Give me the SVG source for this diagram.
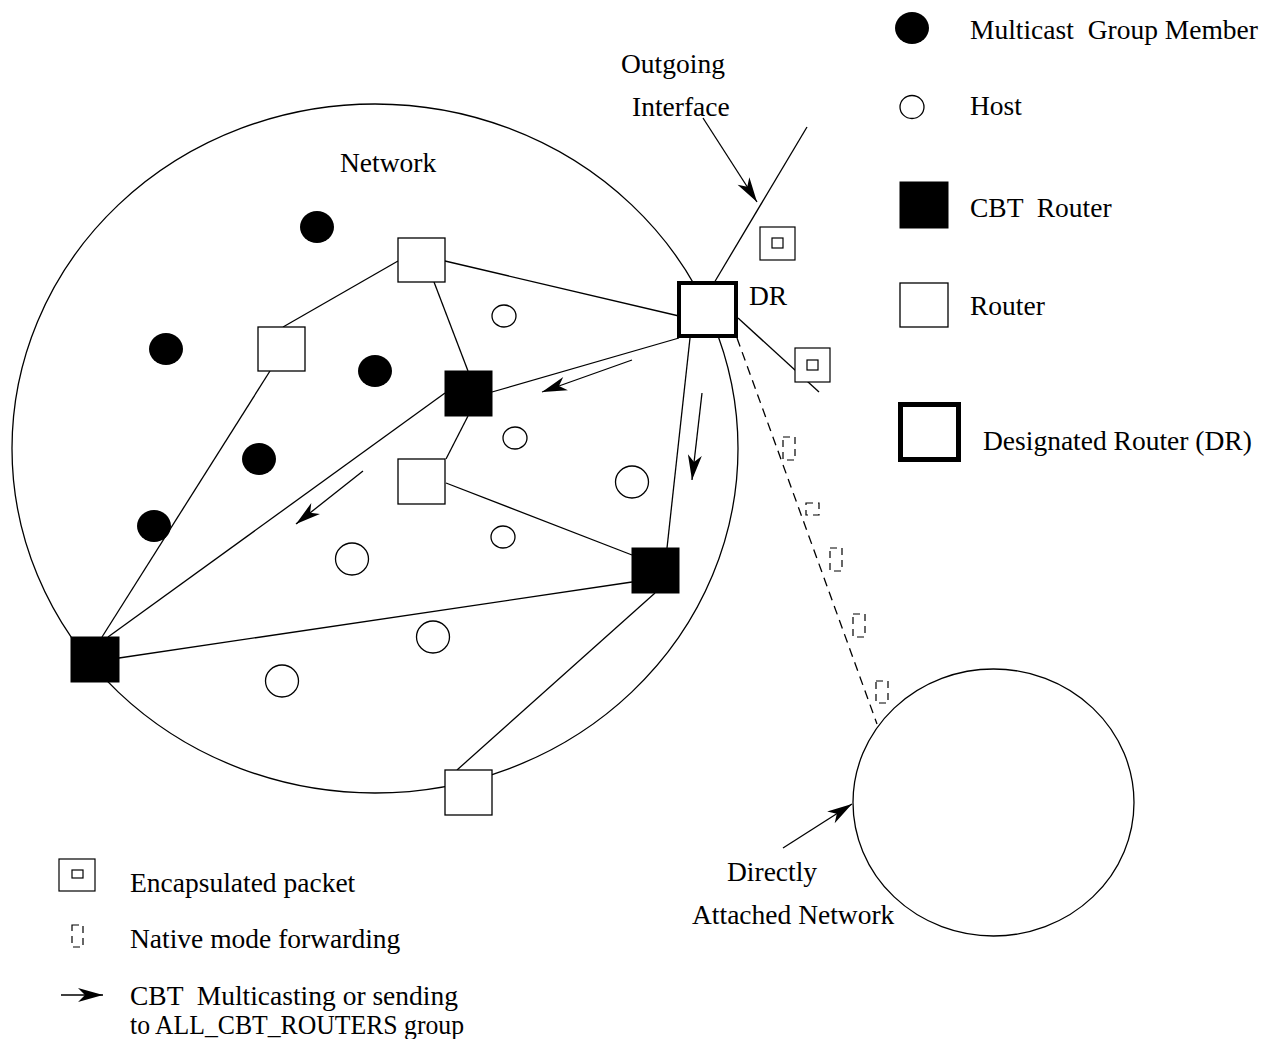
<svg xmlns="http://www.w3.org/2000/svg" width="1266" height="1039" viewBox="0 0 1266 1039">
<style>
text{font-family:"Liberation Serif","Times New Roman",serif;font-size:27.5px;fill:#000;white-space:pre}
.ln{stroke:#000;stroke-width:1.3;fill:none}
.rt{fill:#fff;stroke:#000;stroke-width:1.3}
.cbt{fill:#000;stroke:#000;stroke-width:1}
.dr{fill:#fff;stroke:#000;stroke-width:4}
.host{fill:#fff;stroke:#000;stroke-width:1.3}
.mem{fill:#000}
.pk{fill:#fff;stroke:#000;stroke-width:1.2}
.nm{fill:none;stroke:#000;stroke-width:1.2;stroke-dasharray:7,5}
.arr{stroke:#000;stroke-width:1.3;fill:none;marker-end:url(#ah)}
</style>
<defs>
<marker id="ah" markerUnits="userSpaceOnUse" markerWidth="30" markerHeight="18" viewBox="-27 -9 30 18" refX="0" refY="0" orient="auto">
<path d="M0,0 L-25,-7 L-18,0 L-25,7 Z" fill="#000"/>
</marker>
</defs>
<rect width="1266" height="1039" fill="#fff"/>

<g id="network">
<ellipse cx="375" cy="448.5" rx="363" ry="344.5" class="ln"/>
<text x="340" y="172">Network</text>
</g>
<g id="attached-network">
<ellipse cx="993.5" cy="802.5" rx="140.5" ry="133.5" class="ln"/>
<text x="727" y="881">Directly</text>
<text x="692" y="924">Attached Network</text>
</g>

<g id="connectors">
<line x1="398" y1="261" x2="283" y2="327" class="ln"/>
<line x1="445" y1="261" x2="679" y2="316" class="ln"/>
<line x1="434" y1="282" x2="468" y2="371" class="ln"/>
<line x1="270" y1="371" x2="102" y2="637" class="ln"/>
<line x1="445" y1="393" x2="108" y2="637" class="ln"/>
<line x1="468" y1="416" x2="446" y2="459" class="ln"/>
<line x1="492" y1="392" x2="679" y2="338" class="ln"/>
<line x1="446" y1="483" x2="632" y2="555" class="ln"/>
<line x1="119" y1="658" x2="632" y2="582" class="ln"/>
<line x1="655" y1="593" x2="457" y2="770" class="ln"/>
<line x1="690" y1="338" x2="667" y2="548" class="ln"/>
<line x1="807" y1="127" x2="714" y2="283" class="ln"/>
<line x1="738" y1="318" x2="819" y2="392" class="ln"/>
<line x1="737" y1="338" x2="877" y2="724" class="ln" stroke-dasharray="9,6"/>
<line x1="703" y1="118" x2="757" y2="202" class="arr"/>
<line x1="632" y1="360" x2="542" y2="392" class="arr"/>
<line x1="363" y1="471" x2="296" y2="524" class="arr"/>
<line x1="702" y1="393" x2="692" y2="480" class="arr"/>
<line x1="783" y1="848" x2="852" y2="804" class="arr"/>
</g>

<g id="routers">
<rect id="r1" x="398" y="238" width="47" height="44" class="rt"/>
<rect id="r2" x="258" y="327" width="47" height="44" class="rt"/>
<rect id="r3" x="398" y="459" width="47" height="45" class="rt"/>
<rect id="r4" x="445" y="770" width="47" height="45" class="rt"/>
<rect id="cbt1" x="445" y="371" width="47" height="45" class="cbt"/>
<rect id="cbt2" x="632" y="548" width="47" height="45" class="cbt"/>
<rect id="cbt3" x="71" y="637" width="48" height="45" class="cbt"/>
<g id="dr">
<rect x="679" y="283" width="57" height="53" class="dr"/>
<text x="749" y="305">DR</text>
</g>
</g>

<g id="hosts">
<ellipse cx="504" cy="316" rx="12" ry="11" class="host"/>
<ellipse cx="515" cy="438" rx="12" ry="11" class="host"/>
<ellipse cx="632" cy="482" rx="16.5" ry="16" class="host"/>
<ellipse cx="503" cy="537" rx="12" ry="11" class="host"/>
<ellipse cx="352" cy="559" rx="16.5" ry="16" class="host"/>
<ellipse cx="433" cy="637" rx="16.5" ry="16" class="host"/>
<ellipse cx="282" cy="681" rx="16.5" ry="16" class="host"/>
</g>

<g id="members">
<ellipse cx="317" cy="227" rx="17" ry="16" class="mem"/>
<ellipse cx="166" cy="349" rx="17" ry="16" class="mem"/>
<ellipse cx="375" cy="371" rx="17" ry="16" class="mem"/>
<ellipse cx="259" cy="459" rx="17" ry="16" class="mem"/>
<ellipse cx="154" cy="526" rx="17" ry="16" class="mem"/>
</g>

<g id="packets">
<rect x="760" y="227" width="35" height="33" class="pk"/>
<rect x="772" y="238" width="11" height="10" class="pk"/>
<rect x="795" y="348" width="35" height="34" class="pk"/>
<rect x="807" y="360" width="11" height="10" class="pk"/>
<rect x="783" y="437" width="12" height="23" class="nm"/>
<rect x="806" y="503" width="13" height="12" class="nm"/>
<rect x="830" y="548" width="12" height="23" class="nm"/>
<rect x="853" y="614" width="12" height="23" class="nm"/>
<rect x="876" y="681" width="12" height="22" class="nm"/>
</g>

<g id="outgoing-label">
<text x="621" y="73">Outgoing</text>
<text x="632" y="116">Interface</text>
</g>

<g id="legend-top">
<ellipse cx="912" cy="28" rx="17" ry="16" class="mem"/>
<text x="970" y="39">Multicast  Group Member</text>
<ellipse cx="912" cy="107" rx="12" ry="11.5" class="host"/>
<text x="970" y="115">Host</text>
<rect x="900" y="182" width="48" height="46" class="cbt"/>
<text x="970" y="217">CBT  Router</text>
<rect x="900" y="283" width="48" height="44" class="rt"/>
<text x="970" y="315">Router</text>
<rect x="900.5" y="404.5" width="58" height="55" fill="#fff" stroke="#000" stroke-width="5"/>
<text x="983" y="450">Designated Router (DR)</text>
</g>

<g id="legend-bottom">
<rect x="59" y="859" width="36" height="32" class="pk"/>
<rect x="72" y="870" width="11" height="8" class="pk"/>
<text x="130" y="892">Encapsulated packet</text>
<rect x="72" y="925" width="11" height="22" class="nm"/>
<text x="130" y="948">Native mode forwarding</text>
<line x1="61" y1="995" x2="103" y2="995" class="arr"/>
<text x="130" y="1005">CBT  Multicasting or sending</text>
<text x="130" y="1034" textLength="334" lengthAdjust="spacingAndGlyphs">to ALL_CBT_ROUTERS group</text>
</g>
</svg>
